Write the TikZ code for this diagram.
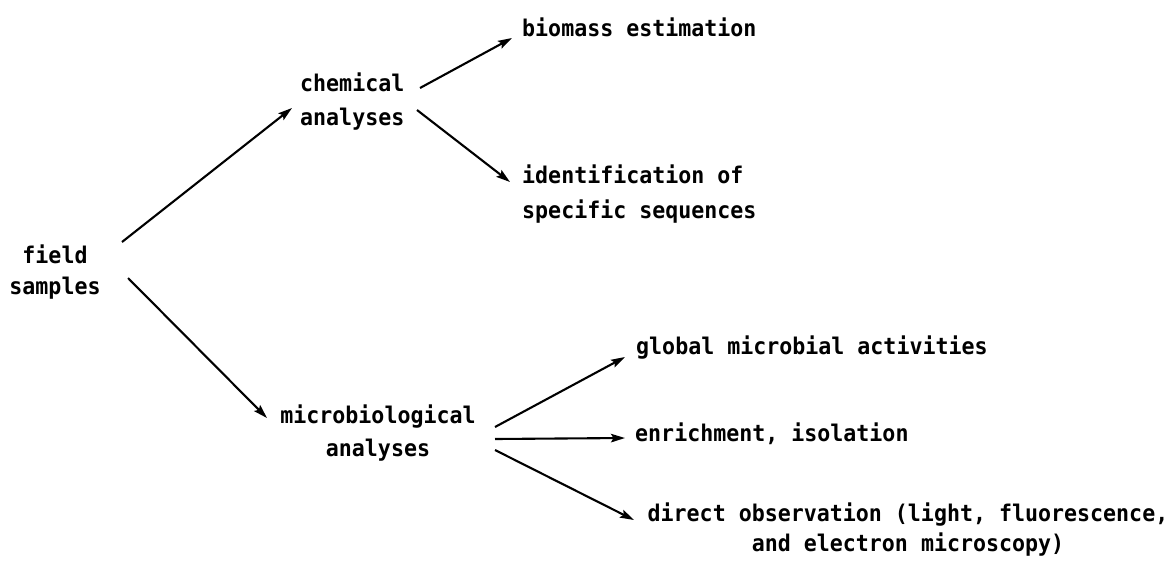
\documentclass[tikz,border=0pt]{standalone}
\usepackage{fontspec}
\newfontfamily\labfont[FakeStretch=0.94]{DejaVu Sans Mono Bold}
\usetikzlibrary{arrows.meta}
\tikzset{
  lbl/.style={inner sep=0pt, font=\labfont\fontsize{23}{33}\selectfont},
  arr/.style={line width=2.1pt, -{Stealth[length=14pt,width=8.5pt,inset=2.5pt]}}
}
\begin{document}
\begin{tikzpicture}[x=1pt,y=-1pt]
\useasboundingbox (0,0) rectangle (1171,566);
\node[lbl, anchor=north, align=center, font=\labfont\fontsize{23}{31}\selectfont] (field) at (55,245) {field\\samples};
\node[lbl, anchor=north west, align=left, font=\labfont\fontsize{23}{34}\selectfont] (chem) at (300,73) {chemical\\analyses};
\node[lbl, anchor=north west] (bio) at (522,18) {biomass estimation};
\node[lbl, anchor=north west, align=left, font=\labfont\fontsize{23}{35}\selectfont] (ident) at (522,165) {identification of\\specific sequences};
\node[lbl, anchor=north, align=center] (micro) at (378,405) {microbiological\\analyses};
\node[lbl, anchor=north west] (global) at (636,336) {global microbial activities};
\node[lbl, anchor=north west] (enrich) at (635,423) {enrichment, isolation};
\node[lbl, anchor=north, align=center, font=\labfont\fontsize{23}{30}\selectfont] (direct) at (908,503) {direct observation (light, fluorescence,\\and electron microscopy)};
\draw[arr] ([shift={(67,-3)}]field.north) -- ([shift={(-8,35)}]chem.north west);
\draw[arr] ([shift={(73,33)}]field.north) -- ([shift={(-111,13)}]micro.north);
\draw[arr] ([shift={(120,15)}]chem.north west) -- ([shift={(-10,20)}]bio.north west);
\draw[arr] ([shift={(117,37)}]chem.north west) -- ([shift={(-12,17)}]ident.north west);
\draw[arr] ([shift={(117,22)}]micro.north) -- ([shift={(-11,21)}]global.north west);
\draw[arr] ([shift={(117,34)}]micro.north) -- ([shift={(-10,15)}]enrich.north west);
\draw[arr] ([shift={(117,45)}]micro.north) -- ([shift={(-274,17)}]direct.north);
\end{tikzpicture}
\end{document}
